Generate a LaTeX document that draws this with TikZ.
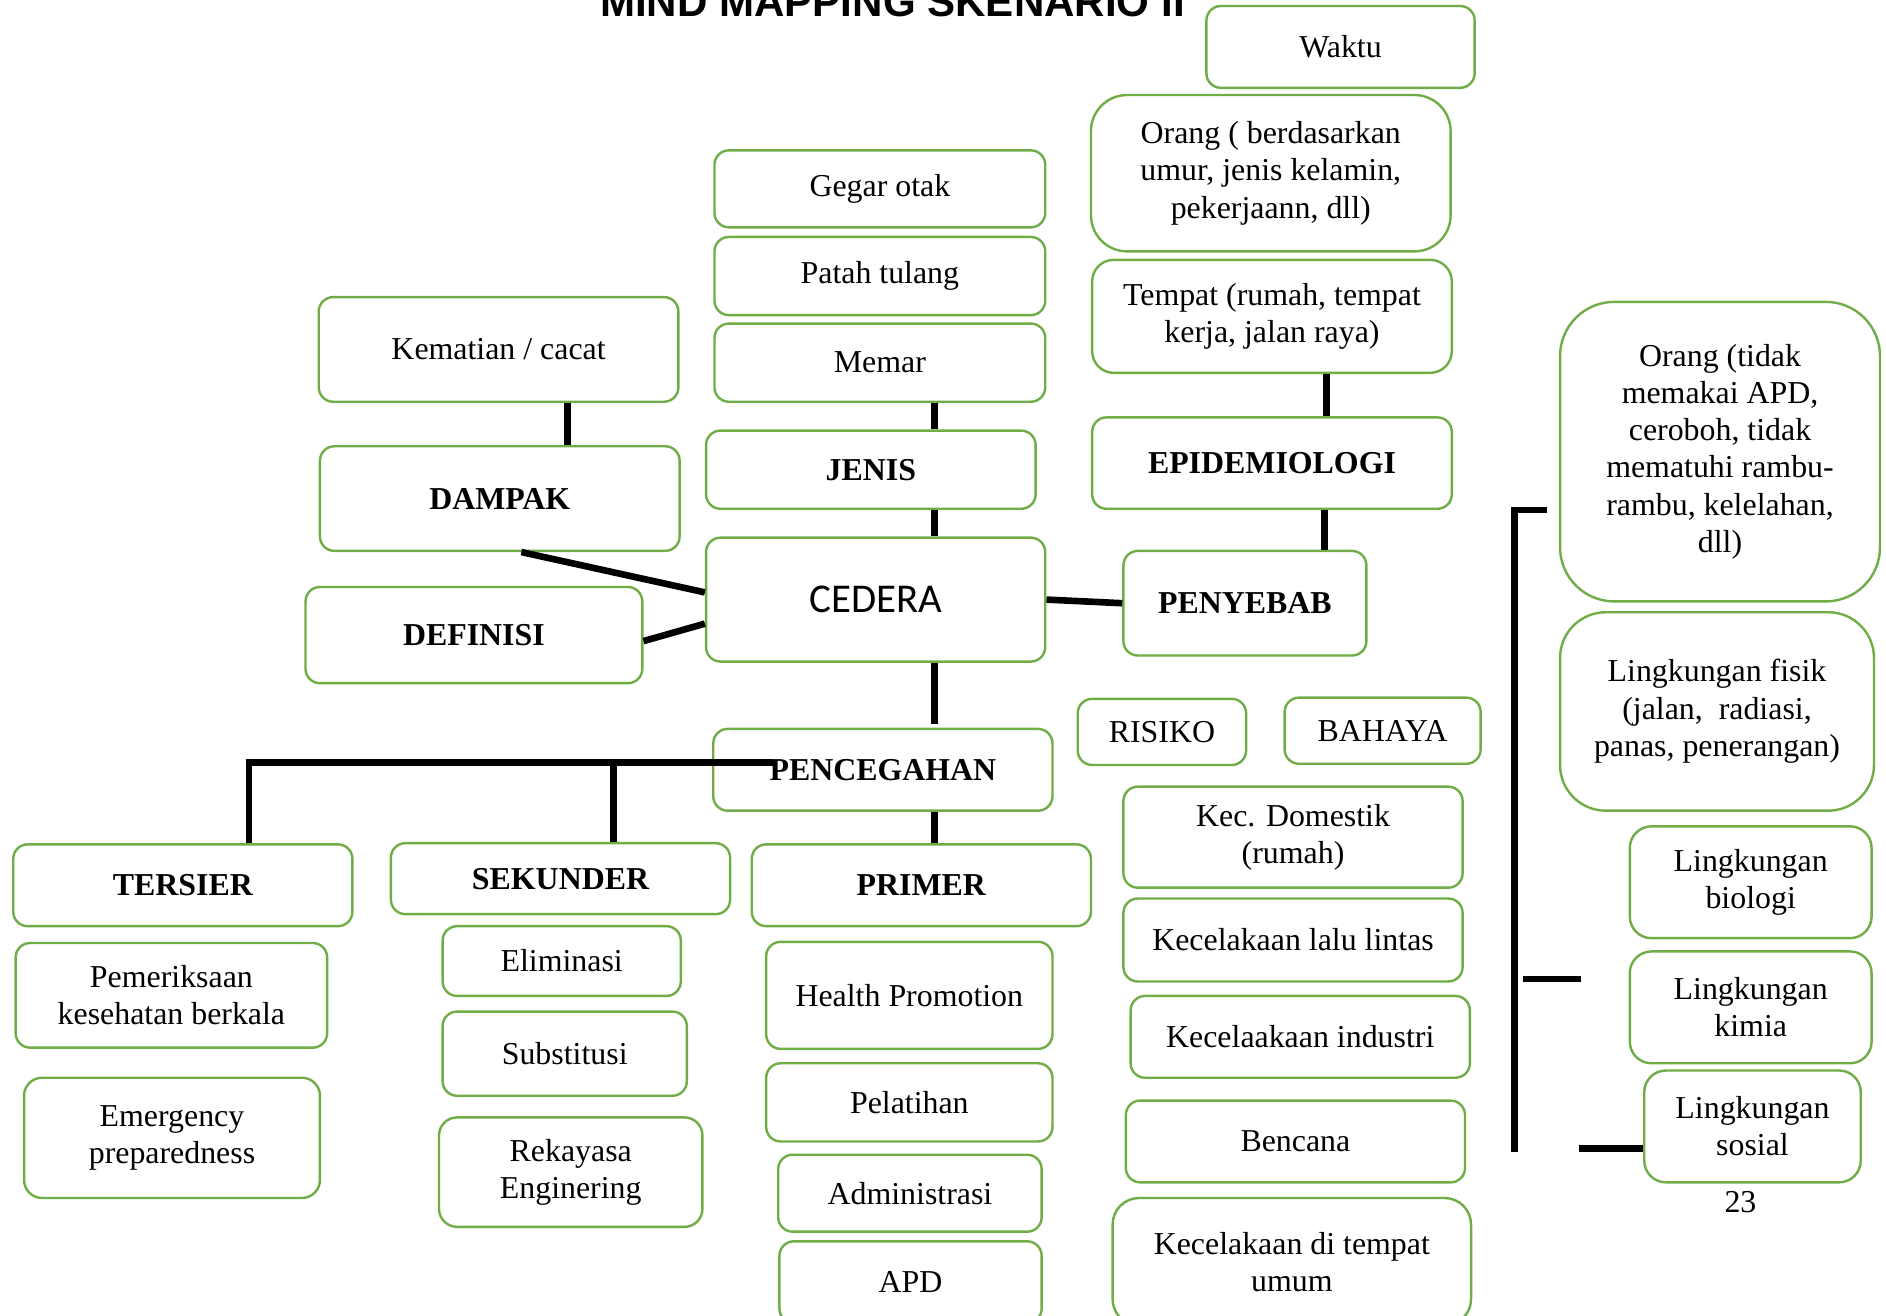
\documentclass[tikz,border=0pt]{standalone}
\usepackage{fontspec}
\setmainfont{Liberation Serif}
\newfontfamily\titlefont{Liberation Sans}
\newfontfamily\cederafont{Carlito}
\usetikzlibrary{positioning}
\definecolor{leafgreen}{HTML}{70AD47}
\tikzset{
  % Common styles for the mind map
  block/.style={draw=leafgreen, line width=2pt, fill=white, rectangle, rounded corners=12pt, align=center, inner sep=0pt, font=\fontsize{26.5}{31}\selectfont},
  head/.style={block, font=\fontsize{26.5}{31}\selectfont\bfseries},
  boxsize/.style 2 args={minimum width=#1pt, minimum height=#2pt},
  line/.style={draw, line width=5.5pt}
}

\begin{document}
\begin{tikzpicture}[x=1pt, y=-1pt]
    \useasboundingbox (0,0) rectangle (1568,1094);

    % Title
    \node [anchor=base, font=\titlefont\bfseries\fontsize{35}{40}\selectfont] (title) at (742,14) {MIND MAPPING SKENARIO II};

    % Centre
    \node [block, boxsize={282}{103}, font=\cederafont\fontsize{34}{40}\selectfont] (cedera) at (728,498.5) {CEDERA};

    % Left side
    \node [block, boxsize={299}{87}] (kematian) at (414.5,290.5) {Kematian / cacat};
    \node [head, boxsize={299}{87}] (dampak) at (415.5,414.5) {DAMPAK};
    \node [head, boxsize={280}{80}] (definisi) at (394,528) {DEFINISI};

    % Jenis
    \node [block, boxsize={275}{64}] (gegar) at (731.5,157) {Gegar otak};
    \node [block, boxsize={275}{65}, below of=gegar, node distance=72.5pt] (patah) {Patah tulang};
    \node [block, boxsize={275}{65}, below of=patah, node distance=72pt] (memar) {Memar};
    \node [head, boxsize={274}{65}] (jenis) at (724,390.5) {JENIS};

    % Epidemiologi
    \node [block, boxsize={223}{68}] (waktu) at (1114.5,39) {Waktu};
    \node [block, boxsize={299}{130}, rounded corners=30pt] (orangA) at (1056.5,144) {Orang ( berdasarkan\\umur, jenis kelamin,\\pekerjaann, dll)};
    \node [block, boxsize={299}{94}, rounded corners=18pt] (tempat) at (1057.5,263) {Tempat (rumah, tempat\\kerja, jalan raya)};
    \node [head, boxsize={299}{76}] (epid) at (1057.5,385) {EPIDEMIOLOGI};
    \node [head, boxsize={202}{87}] (penyebab) at (1035,501.5) {PENYEBAB};

    % Penyebab
    \node [block, boxsize={140}{55}] (risiko) at (966,608.5) {RISIKO};
    \node [block, boxsize={163}{55}] (bahaya) at (1149.5,607.5) {BAHAYA};
    \node [block, boxsize={282}{84}] (domestik) at (1075,696) {Kec. Domestik\\(rumah)};
    \node [block, boxsize={282}{69}, below of=domestik, node distance=85.5pt] (lalulintas) {Kecelakaan lalu lintas};
    \node [block, boxsize={282}{68}] (industri) at (1081,862) {Kecelaakaan industri};
    \node [block, boxsize={282}{68}] (bencana) at (1077,949) {Bencana};
    \node [block, boxsize={298}{106}, rounded corners=22pt] (umum) at (1074,1049) {Kecelakaan di tempat\\umum};

    % Faktor
    \node [block, boxsize={266}{249}, rounded corners=45pt] (orangB) at (1430,375.5) {Orang (tidak\\memakai APD,\\ceroboh, tidak\\mematuhi rambu-\\rambu, kelelahan,\\dll)};
    \node [block, boxsize={261}{165}, rounded corners=38pt] (fisik) at (1427.5,591.5) {Lingkungan fisik\\(jalan,\ \ radiasi,\\panas, penerangan)};
    \node [block, boxsize={201}{93}, rounded corners=18pt] (biologi) at (1455.5,733.5) {Lingkungan\\biologi};
    \node [block, boxsize={201}{93}, rounded corners=18pt, below of=biologi, node distance=104pt] (kimia) {Lingkungan\\kimia};
    \node [block, boxsize={180}{93}, rounded corners=18pt] (sosial) at (1457,936.5) {Lingkungan\\sosial};
    \node [font=\fontsize{26.5}{31}\selectfont] (page) at (1447,999) {23};

    % Pencegahan
    \node [head, boxsize={282}{68}] (pencegahan) at (734,640) {PENCEGAHAN};
    \node [head, boxsize={282}{68}] (tersier) at (152,736) {TERSIER};
    \node [head, boxsize={282}{59}] (sekunder) at (466,730.5) {SEKUNDER};
    \node [head, boxsize={282}{68}] (primer) at (766,736) {PRIMER};

    \node [block, boxsize={259}{87}] (pemeriksaan) at (142.5,827.5) {Pemeriksaan\\kesehatan berkala};
    \node [block, boxsize={246}{100}, rounded corners=15pt] (emergency) at (143,946) {Emergency\\preparedness};

    \node [block, boxsize={198}{58}] (eliminasi) at (467,799) {Eliminasi};
    \node [block, boxsize={203}{70}] (substitusi) at (469.5,876) {Substitusi};
    \node [block, boxsize={219}{91}, rounded corners=15pt] (rekayasa) at (474.5,974.5) {Rekayasa\\Enginering};

    \node [block, boxsize={238}{89}] (health) at (756,827.5) {Health Promotion};
    \node [block, boxsize={238}{65}, below of=health, node distance=89pt] (pelatihan) {Pelatihan};
    \node [block, boxsize={219}{64}] (administrasi) at (756.5,992) {Administrasi};
    \node [block, boxsize={218}{68}] (apd) at (757,1066) {APD};

    % Draw edges
    \path [line] ([xshift=57.5pt]kematian.south) -- ([xshift=56.5pt]dampak.north);
    \path [line] ([xshift=18pt]dampak.south) -- ([yshift=6pt]cedera.west);
    \path [line] ([yshift=-5pt]definisi.east) -- ([yshift=-20pt]cedera.west);
    \path [line] ([xshift=45.5pt]memar.south) -- ([xshift=53pt]jenis.north);
    \path [line] ([xshift=53pt]jenis.south) -- ([xshift=49pt]cedera.north);
    \path [line] ([xshift=45.5pt]tempat.south) -- ([xshift=45.5pt]epid.north);
    \path [line] ([xshift=43.5pt]epid.south) -- ([xshift=66pt]penyebab.north);
    \path [line] (cedera.east) -- (penyebab.west);
    \path [line] ([xshift=49pt]cedera.south) -- ([xshift=43pt,yshift=3pt]pencegahan.north);
    \path [line] ([xshift=43pt]pencegahan.south) -- ([xshift=11pt]primer.north);

    % Pencegahan branches
    \coordinate (split) at (643,634);
    \path [line] (split) -| ([xshift=55pt]tersier.north);
    \path [line] ([xshift=44pt]sekunder.north) -- ([xshift=44pt]sekunder.north |- split);

    % Bracket of the causes
    \coordinate (bracket tip) at (1286,424);
    \coordinate (bracket top) at (1259,424);
    \coordinate (bracket end) at (1259,958);
    \coordinate (mid tick a) at (1266,814);
    \coordinate (mid tick b) at (1314,814);
    \coordinate (low tick) at (1313,955);
    \path [line] (bracket tip) -- (bracket top) -- (bracket end);
    \path [line] (mid tick a) -- (mid tick b);
    \path [line] (low tick) -- (low tick -| sosial.west);

\end{tikzpicture}
\end{document}
